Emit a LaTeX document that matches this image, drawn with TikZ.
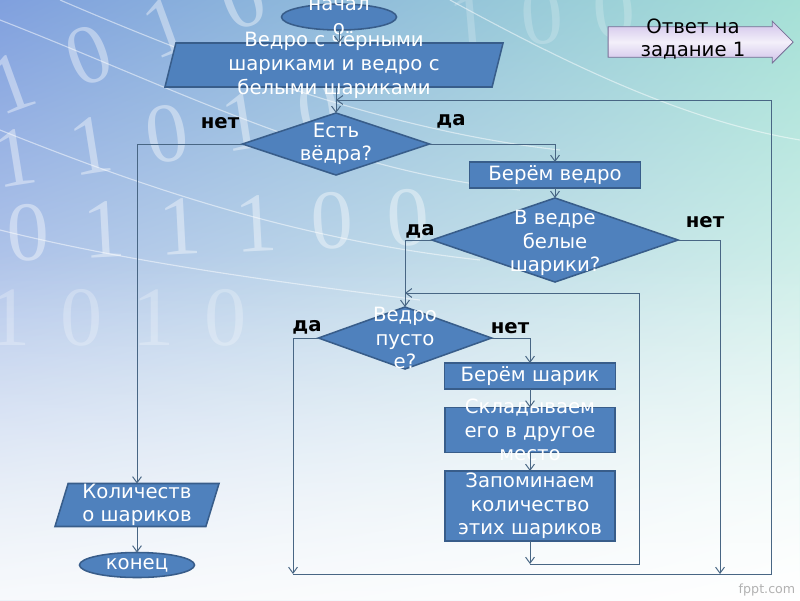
\documentclass[tikz,border=0pt]{standalone}
\usepackage{fontspec}
\setmainfont{DejaVu Sans}
\newfontfamily\digitfont{Liberation Serif}
\usetikzlibrary{arrows.meta,shapes.geometric,shapes.arrows,fadings,shadings}

\definecolor{boxfill}{RGB}{79,129,189}
\definecolor{boxedge}{RGB}{56,93,138}
\definecolor{linkcol}{RGB}{72,102,132}
\definecolor{bgblue}{RGB}{128,160,222}
\definecolor{bgmint}{RGB}{165,224,214}
\definecolor{bglow}{RGB}{236,242,248}
\definecolor{lavender}{RGB}{208,194,234}
\definecolor{lavedge}{RGB}{120,110,150}

\begin{document}
\begin{tikzpicture}[x=0.025cm,y=-0.025cm]
\tikzset{
  shapebase/.style={fill=boxfill,draw=boxedge,line width=1.1pt,inner sep=1pt,outer sep=0pt},
  procbox/.style={shapebase,rectangle},
  decision/.style={shapebase,diamond},
  terminal/.style={shapebase,ellipse},
  inout/.style={shapebase,trapezium,trapezium stretches body=true,trapezium left angle=76,trapezium right angle=104},
  inside/.style={text=white,font=\fontsize{14}{16.8}\selectfont,align=center},
  branch/.style={font=\bfseries\fontsize{14}{16}\selectfont,text=black},
  link/.style={draw=linkcol,line width=0.7pt,-{Straight Barb[length=1.5mm,width=2.2mm]}},
  bindigit/.style={font=\digitfont\fontsize{60}{60}\selectfont,text=white,opacity=0.4},
  bgline/.style={white,line width=0.8pt,opacity=0.5}
}
\useasboundingbox (0,0) rectangle (800,600);
% background
\begin{scope}
\clip (0,0) rectangle (800,600);
\shade[upper left=bgblue,upper right=bgmint,lower left=bglow,lower right=white] (0,0) rectangle (800,600);
\fill[white,path fading=north,opacity=0.6] (0,250) rectangle (800,600);
\draw[bgline] (0,20) .. controls (180,90) and (330,170) .. (520,190);
\draw[bgline] (60,0) .. controls (200,60) and (380,130) .. (560,150);
\draw[bgline] (0,130) .. controls (150,190) and (300,240) .. (480,260);
\draw[bgline] (0,230) .. controls (120,260) and (260,280) .. (420,300);
\draw[bgline] (450,0) .. controls (560,60) and (680,120) .. (800,140);
\foreach \d [count=\i] in {1,0,1,0}
  \node[bindigit,rotate=20] (dA\i) at ({12+(\i-1)*77},{83-(\i-1)*28}) {\d};
\foreach \d [count=\i] in {1,1,0,1,0}
  \node[bindigit,rotate=9] (dB\i) at ({15+(\i-1)*76},{158-(\i-1)*12}) {\d};
\foreach \d [count=\i] in {0,1,1,1,0,0}
  \node[bindigit,rotate=3] (dC\i) at ({28+(\i-1)*76},{233-(\i-1)*3}) {\d};
\foreach \d [count=\i] in {1,0,1,0}
  \node[bindigit,opacity=0.25] (dD\i) at ({10+(\i-1)*72},318) {\d};
\foreach \d [count=\i] in {1,0,0}
  \node[bindigit,opacity=0.2,rotate=5] (dE\i) at ({470+(\i-1)*72},{22-(\i-1)*6}) {\d};
\end{scope}

% flowchart
\node[terminal,minimum width=2.875cm,minimum height=0.65cm,label={[inside]center:{начал\\о}}] (start) at (339,17) {};
\node[inout,inner ysep=0.55cm,minimum width=8.45cm,label={[inside]center:{Ведро с чёрными\\шариками и ведро с\\белыми шариками}}] (given) at (334,65) {};
\node[decision,minimum width=4.675cm,minimum height=1.55cm,label={[inside]center:{Есть\\вёдра?}}] (q1) at (336,144) {};
\node[procbox,minimum width=4.275cm,minimum height=0.65cm,label={[inside]center:{Берём ведро}}] (takebucket) at (555,175) {};
\node[decision,minimum width=6.15cm,minimum height=2.1cm,label={[inside,yshift=-0.08cm]center:{В ведре\\белые\\шарики?}}] (q2) at (555,240) {};
\node[decision,minimum width=4.325cm,minimum height=1.55cm,label={[inside]center:{Ведро\\пусто\\е?}}] (q3) at (405,338) {};
\node[procbox,minimum width=4.275cm,minimum height=0.65cm,label={[inside]center:{Берём шарик}}] (takeball) at (530,376) {};
\node[procbox,minimum width=4.25cm,minimum height=1.125cm,label={[inside]center:{Складываем\\его в другое\\место}}] (putaside) at (530,430) {};
\node[procbox,minimum width=4.25cm,minimum height=1.75cm,label={[inside]center:{Запоминаем\\количество\\этих шариков}}] (remember) at (530,506) {};
\node[inout,trapezium left angle=73,trapezium right angle=107,inner ysep=0.5375cm,minimum width=4.1cm,label={[inside]center:{Количеств\\о шариков}}] (count) at (137,505) {};
\node[terminal,minimum width=2.875cm,minimum height=0.625cm,label={[inside]center:{конец}}] (finish) at (137,565) {};

% answer button
\node[single arrow,draw=lavedge,line width=0.6pt,top color=lavender,bottom color=lavender,middle color=lavender!25,
  minimum height=4.625cm,single arrow head extend=0.14cm,inner xsep=1pt,inner ysep=0.37cm,
  label={[text=black,font=\fontsize{14}{16.8}\selectfont,align=center,yshift=0.07cm]center:{Ответ на\\задание 1}}] (answer) at (693,42) {};

% branch labels
\node[branch] (q1no) at (220,123) {нет};
\node[branch] (q1yes) at (451,121) {да};
\node[branch] (q2yes) at (420,231) {да};
\node[branch] (q2no) at (705,222) {нет};
\node[branch] (q3yes) at (307,327) {да};
\node[branch] (q3no) at (510,328) {нет};

% junctions
\coordinate (j_loop) at (530,564);
\coordinate (j_loopcorner) at (639,293);
\coordinate (j_left) at (293,574);
\coordinate (j_right) at (720,574);
\coordinate (j_back) at (771,100);

% connectors
\draw[link] (start.south) -- (start.south |- given.north);
\draw[link] (q1.north |- given.south) -- (q1.north);
\draw[link] (q1.west) -| (count.north);
\draw[link] (q1.east) -| (takebucket.north);
\draw[link] (takebucket) -- (q2);
\draw[link] (q2.west) -| (q3.north);
\draw[link] (q2.east) -| (j_right);
\draw[link] (q3.west) -| (j_left);
\draw[link] (q3.east) -| (takeball.north);
\draw[link] (takeball) -- (putaside);
\draw[link] (putaside) -- (remember);
\draw[link] (remember) -- (j_loop);
\draw[link] (j_loop) -| (j_loopcorner) -- (q3.north |- j_loopcorner);
\draw[link] (j_left) -| (j_back) -- (q1.north |- j_back);
\draw[link] (count) -- (finish);

\node[text=black!30,font=\fontsize{9}{10}\selectfont] (brand) at (767,590) {fppt.com};
\end{tikzpicture}
\end{document}
